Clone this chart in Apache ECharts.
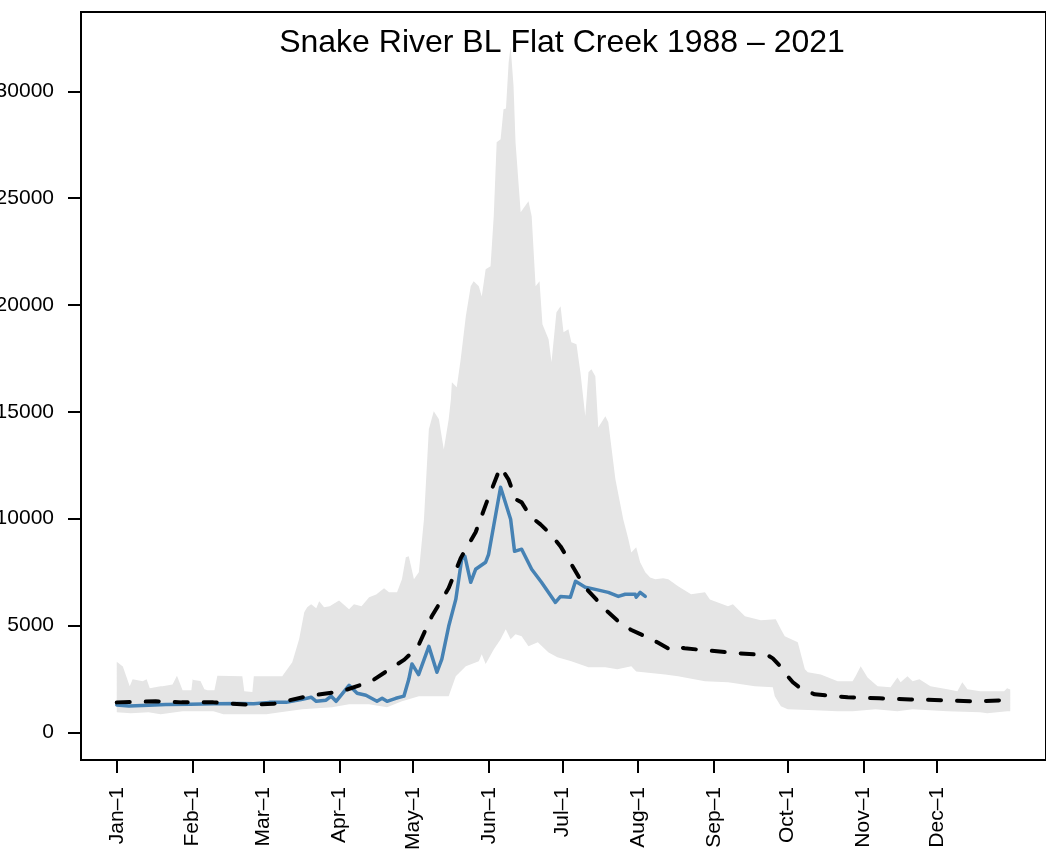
<!DOCTYPE html>
<html>
<head>
<meta charset="utf-8">
<script src="https://cdn.jsdelivr.net/npm/echarts@6/dist/echarts.min.js"></script>
<style>
html,body{margin:0;padding:0;background:#fff;}
#chart{width:1046px;height:861px;}
</style>
</head>
<body>
<div id="chart"></div>
<script>
// ---- data (day of year, cfs) ----
const monthDays = [0, 31, 60, 91, 121, 152, 182, 213, 244, 274, 305, 335];
const monthLabels = ['Jan–1','Feb–1','Mar–1','Apr–1','May–1','Jun–1','Jul–1','Aug–1','Sep–1','Oct–1','Nov–1','Dec–1'];
const yTicks = [0, 5000, 10000, 15000, 20000, 25000, 30000];
const titleText = 'Snake River BL Flat Creek 1988 – 2021';

const ribbonMax = [
  [0,3300],[2.5,3080],[5.3,2150],[6.5,2480],[10.6,2390],[12.2,2480],[13.5,2060],[17.9,2150],[18.7,2150],
  [22.8,2240],[24.6,2650],[26.9,1970],[30.5,1970],[31,2480],[31.4,2450],[34.2,2400],[35.8,2010],[37.1,1970],
  [39.9,1970],[41.1,2650],[51.3,2620],[52.1,1920],[55.4,1880],[56,2620],[67.6,2620],[71.7,3280],[74.5,4350],
  [76.6,5620],[77.8,5850],[79.4,5990],[81.5,5800],[82.7,6130],[84.7,5850],[87,5900],[90.8,6170],[94.9,5760],
  [96.9,5990],[100,5900],[103.1,6320],[106,6450],[109.2,6740],[111.2,6550],[114.5,6550],[116.5,7160],
  [118.1,8190],[119.3,8240],[121.4,7160],[123.4,7490],[125.5,9970],[127.5,14180],[129.5,15020],[131.6,14650],
  [133.6,13240],[135.6,14650],[136.5,15580],[136.9,16380],[138.9,16150],[140.5,17460],[142.6,19470],
  [144.6,20870],[145.8,21110],[147.9,20870],[149.1,20400],[150.7,21670],[152.7,21810],[154,24150],
  [155.2,27610],[156.8,27750],[158,29160],[159,29200],[160.1,31360],[160.9,32100],[162.1,30230],[162.9,27610],
  [165,24340],[168.2,24850],[169.5,24150],[171.1,20870],[172.7,21110],[173.9,19100],[176.4,18400],
  [177.6,17320],[179.6,19650],[181.3,19940],[182.5,18720],[184.5,18860],[185.7,18250],[187.8,18160],
  [189.4,16850],[191.4,14790],[192.7,16850],[193.9,16990],[195.5,16660],[196.7,14270],[199.6,14790],
  [200.8,14510],[203.7,11840],[206.9,9970],[209,9030],[210.2,8420],[212.2,8660],[213.8,7960],[215.9,7490],
  [217.9,7250],[220,7160],[223.2,7210],[225.3,7160],[229.3,6830],[234.6,6460],[240.3,6550],[242.3,6220],
  [249.7,5900],[251.7,5990],[256.6,5430],[263.1,5240],[269.2,5290],[271.3,4820],[272.9,4490],[278.2,4210],
  [281.1,2950],[282.3,2810],[287.6,2710],[294.5,2390],[300.6,2390],[301.8,2620],[303.9,3090],[306.7,2570],
  [310.8,2150],[316.1,2110],[318.9,2570],[320.2,2340],[323,2620],[325.1,2390],[327.9,2480],[332.4,2150],
  [339.3,2010],[343.4,1920],[345.4,2340],[347.5,2010],[352.7,1920],[362.5,1920],[363.7,2060],[365,2000]
];

const ribbonMin = [
  [0,940],[5.7,890],[13,940],[17.9,840],[26.9,980],[39.5,980],[43.6,840],[61.1,840],[66.8,940],[75.8,1080],
  [88,1170],[94.9,1310],[103.1,1310],[110.4,1170],[116.5,1450],[123.4,1690],[135.6,1690],[138.5,2620],
  [142.6,3090],[147.9,3320],[149.1,3650],[150.7,3200],[154,3880],[156.8,4350],[158.9,4820],[160.9,4350],
  [162.9,4590],[165.4,4490],[168.2,4030],[172,4210],[176.4,3740],[180,3510],[185.7,3320],[192.7,3040],
  [199.6,3040],[204.5,2950],[210.2,3090],[212.2,2850],[224,2710],[229.3,2620],[240.3,2390],[249.7,2340],
  [260.7,2150],[268,2110],[268.8,1690],[271.3,1220],[274.1,1080],[285.1,1030],[294.5,980],[300.6,980],
  [310,1080],[318.9,980],[325.1,1080],[339.3,980],[352.7,940],[355.6,890],[363.7,980],[365,980]
];

const medianFlow = [
  [0,1400],[15.9,1450],[26.5,1400],[39.5,1400],[52.5,1300],[64,1330],[78,1690],[92,1920],[104,2390],
  [114.5,3180],[117.5,3400],[123,4000],[128.7,5430],[135.6,6750],[140.5,8150],[146.6,9360],[151.1,10760],
  [156,12200],[156.8,12400],[160,11840],[163,10900],[165.4,10760],[169,10100],[173.1,9730],[177,9300],
  [181.3,8700],[185,8000],[188.6,7300],[192,6700],[195.9,6220],[200,5700],[204.9,5190],[210,4800],
  [215.9,4490],[221,4200],[226,3880],[229,4000],[232,3930],[240.3,3840],[253.8,3700],[266,3600],[268,3460],
  [271,3100],[274.1,2620],[276.2,2340],[280,2000],[285.1,1780],[298.6,1640],[311.6,1590],[324.2,1540],
  [337.3,1500],[350.3,1450],[362.5,1500],[365,1450]
];

const flow2021 = [
  [0,1280],[5,1230],[13,1270],[20,1300],[30,1310],[40,1340],[50,1350],[56,1340],[62.3,1400],[69.2,1400],
  [75.8,1540],[79.4,1640],[81.5,1450],[85.5,1500],[87.6,1690],[89.6,1450],[94.9,2200],[98.2,1830],
  [101.8,1730],[106.3,1450],[108.4,1590],[110.4,1450],[114,1590],[117.3,1690],[119.3,2480],[120.6,3200],
  [123.3,2700],[127.5,4020],[130.8,2810],[132.8,3420],[135.6,4960],[138.5,6220],[140.9,8100],[142.2,8240],
  [144.6,7020],[146.6,7630],[150.7,7960],[151.9,8330],[156.8,11470],[160.9,9970],[162.5,8470],[165.4,8570],
  [169.5,7630],[173.5,7020],[179.2,6080],[181.3,6360],[185.3,6320],[187.4,7070],[191.4,6790],[195.5,6690],
  [200.8,6550],[204.9,6360],[207.7,6460],[211.8,6460],[212.2,6320],[213.8,6550],[215.9,6360]
];

const FONT = '"Liberation Sans", Arial, Helvetica, sans-serif';

const chart = echarts.init(document.getElementById('chart'), null, {renderer: 'canvas'});
chart.setOption({
  animation: false,
  backgroundColor: '#fff',
  title: {
    text: titleText,
    left: 557,
    top: 22,
    textAlign: 'center',
    textStyle: {fontFamily: FONT, fontSize: 32, fontWeight: 'normal', color: '#000'}
  },
  grid: {
    left: 81, top: 12, width: 965, height: 748,
    show: true, borderColor: '#000', borderWidth: 2, backgroundColor: 'transparent',
    containLabel: false, outerBoundsMode: 'none'
  },
  xAxis: {
    type: 'value', min: -14.6, max: 379.6,
    axisLine: {show: false, onZero: false},
    axisTick: {show: true, customValues: monthDays, length: 13, lineStyle: {color: '#000', width: 2}},
    axisLabel: {
      customValues: monthDays, rotate: 90, margin: 27, fontSize: 21, color: '#000', fontFamily: FONT,
      formatter: function (v) { const i = monthDays.indexOf(v); return i >= 0 ? monthLabels[i] : ''; }
    },
    splitLine: {show: false}
  },
  yAxis: {
    type: 'value', min: -1297, max: 33711,
    axisLine: {show: false, onZero: false},
    axisTick: {show: true, customValues: yTicks, length: 13, lineStyle: {color: '#000', width: 2}},
    axisLabel: {
      customValues: yTicks, margin: 27, fontSize: 21, color: '#000', fontFamily: FONT,
      formatter: function (v) { return String(v); }
    },
    splitLine: {show: false}
  },
  series: [
    {
      type: 'custom',
      coordinateSystem: 'cartesian2d',
      data: [[0, 0]],
      z: 1,
      silent: true,
      renderItem: function (params, api) {
        const pts = [];
        for (const p of ribbonMax) pts.push(api.coord(p));
        for (let i = ribbonMin.length - 1; i >= 0; i--) pts.push(api.coord(ribbonMin[i]));
        return {type: 'polygon', shape: {points: pts}, style: {fill: '#E5E5E5', stroke: null}};
      }
    },
    {
      type: 'line', data: flow2021, showSymbol: false, z: 3,
      lineStyle: {color: '#4682B4', width: 3.5, join: 'round', cap: 'round'}
    },
    {
      type: 'line', data: medianFlow, showSymbol: false, z: 4,
      lineStyle: {color: '#000', width: 4, type: [13, 16], cap: 'round', join: 'round'}
    }
  ]
});
</script>
</body>
</html>
